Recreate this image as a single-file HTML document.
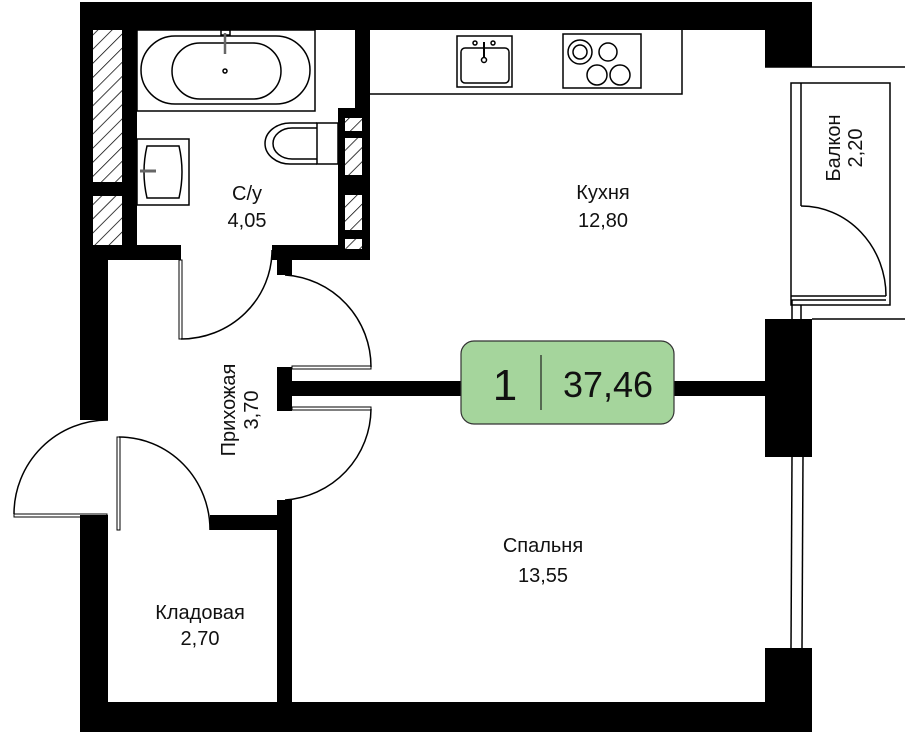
<!DOCTYPE html>
<html><head><meta charset="utf-8"><style>
html,body{margin:0;padding:0;background:#fff;}
svg{display:block;}
text{font-family:"Liberation Sans",sans-serif;fill:#111;}
</style></head><body>
<svg width="905" height="732" viewBox="0 0 905 732" xmlns="http://www.w3.org/2000/svg">
<defs>
<pattern id="h" patternUnits="userSpaceOnUse" width="10" height="10" patternTransform="rotate(45)">
<rect width="10" height="10" fill="#fff"/><line x1="0" y1="0" x2="0" y2="10" stroke="#000" stroke-width="1.5"/>
</pattern>
</defs>
<g fill="#000">
<!-- top wall -->
<rect x="80" y="2" width="732" height="28"/>
<rect x="765" y="2" width="47" height="65"/>
<!-- left walls -->
<rect x="80" y="2" width="57" height="258"/>
<rect x="80" y="245" width="28" height="175"/>
<rect x="80" y="515" width="28" height="217"/>
<!-- bottom -->
<rect x="80" y="702" width="732" height="30"/>
<!-- right walls -->
<rect x="765" y="319" width="47" height="138"/>
<rect x="765" y="648" width="47" height="84"/>
<!-- bathroom walls -->
<rect x="80" y="245" width="101" height="15"/>
<rect x="272" y="245" width="98" height="15"/>
<rect x="277" y="245" width="15" height="30"/>
<rect x="338" y="108" width="32" height="152"/>
<rect x="355" y="30" width="15" height="80"/>
<!-- central wall -->
<rect x="277" y="367" width="15" height="44"/>
<rect x="292" y="381" width="170" height="15"/>
<rect x="672" y="381" width="95" height="15"/>
<!-- storage walls -->
<rect x="210" y="515" width="82" height="15"/>
<rect x="277" y="500" width="15" height="210"/>
</g>
<!-- hatches -->
<g fill="url(#h)">
<rect x="93" y="30" width="29" height="152"/>
<rect x="93" y="196" width="29" height="49"/>
<rect x="345" y="118" width="17" height="13"/>
<rect x="345" y="138" width="17" height="37"/>
<rect x="345" y="195" width="17" height="35"/>
<rect x="345" y="239" width="17" height="10"/>
</g>
<g fill="none" stroke="#000" stroke-width="1.5">
<!-- bathtub -->
<rect x="137" y="30" width="178" height="81"/>
<rect x="141" y="36" width="169" height="68" rx="34"/>
<rect x="172" y="43" width="109" height="56" rx="28"/>
<circle cx="225" cy="71" r="2"/>
<rect x="221" y="30" width="9" height="5"/>
<line x1="225" y1="33" x2="225" y2="54" stroke-width="2.5" stroke="#666"/>
<!-- toilet -->
<rect x="317" y="123" width="21" height="41"/>
<path d="M317 123 H290 A25 20.5 0 0 0 290 164 H317"/>
<path d="M317 128 H292 A19 15.5 0 0 0 292 159 H317"/>
<!-- bath sink -->
<rect x="137" y="139" width="52" height="66"/>
<path d="M147 146 H179 Q185 172 179 198 H147 Q141 172 147 146Z"/>
<line x1="140" y1="171" x2="156" y2="171" stroke-width="3" stroke="#666"/>
<!-- kitchen counter -->
<polyline points="370,94 682,94 682,30"/>
<rect x="457" y="36" width="55" height="51"/>
<rect x="461" y="48" width="48" height="35" rx="4"/>
<circle cx="475" cy="43" r="2"/><circle cx="493" cy="43" r="2"/>
<line x1="484" y1="42" x2="484" y2="57" stroke-width="2"/>
<circle cx="484" cy="60" r="2.5"/>
<rect x="563" y="34" width="78" height="54"/>
<circle cx="580" cy="52" r="12"/><circle cx="580" cy="52" r="7"/>
<circle cx="608" cy="52" r="9"/>
<circle cx="597" cy="75" r="10"/><circle cx="620" cy="75" r="10"/>
<!-- balcony -->
<polyline points="765,67 905,67"/>
<polyline points="812,319 905,319"/>
<rect x="791" y="83" width="99" height="222"/>
<line x1="801" y1="83" x2="801" y2="206"/>
<path d="M801 206 A85 90 0 0 1 886 296"/>
<line x1="791" y1="296" x2="886" y2="296"/>
<line x1="791" y1="300" x2="886" y2="300"/>
<line x1="792" y1="300" x2="792" y2="319"/>
<line x1="801" y1="305" x2="801" y2="319"/>
<!-- window right -->
<line x1="792" y1="457" x2="791" y2="648"/>
<line x1="803" y1="457" x2="802" y2="648"/>
<!-- bathroom door -->
<rect x="179" y="260" width="3" height="79" stroke-width="1"/>
<path d="M181 339 A91 89 0 0 0 272 250"/>
<!-- hall doors -->
<rect x="292" y="366" width="79" height="3" stroke-width="1"/>
<rect x="292" y="407" width="79" height="3" stroke-width="1"/>
<path d="M285 275 A92 92 0 0 1 371 367"/>
<path d="M371 409 A92 92 0 0 1 285 500"/>
<!-- entrance door -->
<rect x="14" y="514" width="93" height="3" stroke-width="1"/>
<path d="M14 514 A94 94 0 0 1 108 420"/>
<!-- storage door -->
<rect x="117" y="437" width="3" height="93" stroke-width="1"/>
<path d="M119 437 A91 93 0 0 1 210 530"/>
</g>
<!-- area badge -->
<rect x="461" y="341" width="213" height="83" rx="13" fill="#a5d59c" stroke="#333" stroke-width="1.2"/>
<line x1="541" y1="355" x2="541" y2="410" stroke="#222" stroke-width="1.2"/>
<text x="505" y="400" font-size="44" text-anchor="middle">1</text>
<text x="608" y="397" font-size="36" text-anchor="middle">37,46</text>
<!-- labels -->
<g font-size="20" text-anchor="middle">
<text x="247" y="200">С/у</text>
<text x="247" y="227">4,05</text>
<text x="603" y="199">Кухня</text>
<text x="603" y="227">12,80</text>
<text x="543" y="552">Спальня</text>
<text x="543" y="582">13,55</text>
<text x="200" y="619">Кладовая</text>
<text x="200" y="645">2,70</text>
<text transform="translate(235,410) rotate(-90)">Прихожая</text>
<text transform="translate(258,410) rotate(-90)">3,70</text>
<text transform="translate(840,148) rotate(-90)">Балкон</text>
<text transform="translate(862,148) rotate(-90)">2,20</text>
</g>
</svg>
</body></html>
